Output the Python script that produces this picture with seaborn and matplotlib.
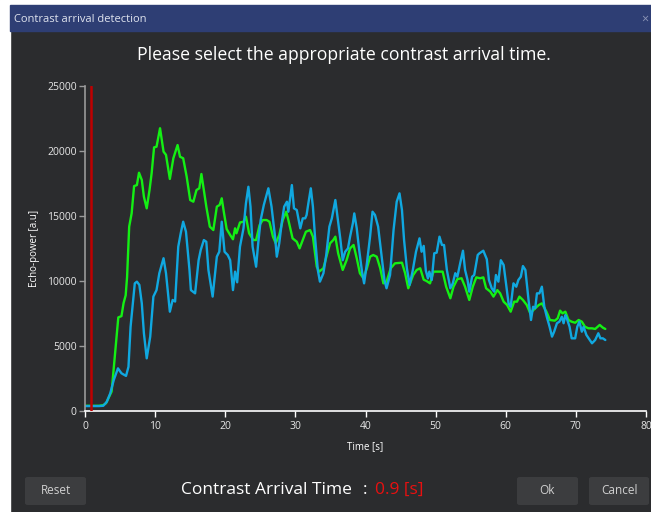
import numpy as np
import pandas as pd
import matplotlib
matplotlib.use("Agg")
import matplotlib.pyplot as plt
import seaborn as sns
from matplotlib.patches import Rectangle, FancyBboxPatch

# ---------------- data ----------------
green_time = [0, 2.0, 2.6, 3.0, 3.8, 4.3, 4.75, 5.2, 5.5, 5.8, 6.0, 6.3, 6.65, 7.0, 7.4, 7.7,
              8.1, 8.4, 8.8, 9.2, 9.5, 9.85, 10.2, 10.7, 11.2, 11.55, 12.1, 12.6, 13.2, 13.55,
              14.0, 14.5, 15.0, 15.45, 15.9, 16.3, 16.6, 17.3, 17.8, 18.3, 18.8, 19.2, 19.5,
              19.8, 20.2, 20.7, 21.1, 21.4, 21.6, 22.1, 22.6, 22.95, 23.4, 24.0, 24.4, 24.9,
              25.35, 25.9, 26.3, 26.8, 27.2, 27.7, 28.2, 28.7, 29.0, 29.6, 30.2, 30.6, 31.05,
              31.5, 32.1, 32.5, 33.05, 33.4, 34.0, 34.55, 34.95, 35.4, 35.7, 36.1, 36.75, 37.3,
              37.8, 38.3, 38.75, 39.2, 39.7, 40.2, 40.65, 41.1, 41.6, 42.1, 42.55, 43.0, 43.6,
              44.2, 45.2, 45.65, 46.1, 46.8, 47.3, 47.8, 48.3, 48.7, 49.2, 49.7, 50.4, 51.0,
              51.5, 52.1, 52.55, 53.1, 53.7, 54.2, 54.8, 55.3, 55.8, 56.35, 56.8, 57.2, 57.8,
              58.25, 58.8, 59.2, 59.7, 60.2, 60.7, 61.2, 61.6, 61.95, 62.45, 63.0, 63.5, 63.95,
              64.7, 65.15, 65.8, 66.3, 67.0, 67.4, 67.75, 68.1, 68.5, 68.95, 69.4, 69.9, 70.4,
              70.85, 71.3, 71.8, 72.3, 72.75, 73.4, 73.85, 74.2]
green_power = [400, 400, 450, 600, 1500, 4500, 7200, 7300, 8300, 8900, 10300, 14180, 15200, 17300,
               17380, 18330, 17770, 16480, 15590, 17000, 18280, 20280, 20330, 21750, 19950, 19700,
               17850, 19440, 20460, 19560, 19440, 18020, 16230, 16100, 17000, 17130, 18230, 15720,
               14180, 13920, 15720, 15850, 16360, 15300, 14000, 13540, 13210, 14050, 13670, 14500,
               14560, 14950, 13670, 13150, 13150, 14310, 14690, 14690, 14560, 13410, 12900, 13540,
               14690, 15330, 14690, 13280, 13020, 12510, 13150, 13790, 13920, 13410, 11100, 10720,
               10980, 12130, 12900, 13150, 13410, 12130, 10850, 11600, 12510, 12770, 11750, 10600,
               10210, 10980, 11870, 12000, 11870, 10980, 9820, 9950, 10980, 11360, 11410, 10600,
               9440, 10460, 10850, 10980, 10100, 10000, 9820, 10720, 10720, 10720, 9560, 8670, 9560,
               10150, 10210, 9560, 8540, 9560, 10280, 10210, 10280, 9440, 9180, 8800, 9300, 9050,
               8410, 8150, 7640, 8410, 8410, 8800, 8540, 8150, 7510, 7770, 8150, 8280, 7640, 7000,
               6950, 7130, 7720, 7510, 7640, 7000, 6870, 6790, 7000, 6870, 6480, 6360, 6360, 6310,
               6620, 6410, 6310]

blue_time = [0, 2.0, 2.6, 3.1, 3.6, 4.1, 4.7, 5.2, 5.85, 6.2, 6.5, 7.1, 7.4, 7.75, 8.1, 8.4, 8.8,
             9.3, 9.75, 10.2, 10.6, 11.2, 11.55, 12.1, 12.5, 12.85, 13.3, 13.65, 14.0, 14.4, 14.9,
             15.1, 15.7, 16.2, 16.5, 16.95, 17.3, 17.6, 18.2, 18.8, 19.15, 19.5, 19.9, 20.35,
             20.7, 21.1, 21.4, 21.7, 22.1, 22.6, 22.95, 23.3, 23.6, 23.9, 24.4, 24.7, 25.05,
             25.5, 26.15, 26.6, 27.1, 27.35, 27.7, 28.05, 28.4, 28.8, 29.0, 29.25, 29.5, 29.8,
             30.2, 30.7, 31.05, 31.4, 31.6, 31.85, 32.2, 32.5, 32.8, 33.2, 33.5, 34.0, 34.4,
             34.85, 35.2, 35.7, 36.0, 36.4, 36.75, 37.1, 37.5, 37.8, 38.2, 38.4, 38.75, 39.1,
             39.5, 39.8, 40.2, 40.65, 41.0, 41.35, 41.8, 42.2, 42.7, 43.0, 43.5, 44.0, 44.45,
             44.85, 45.2, 45.5, 45.9, 46.3, 46.75, 47.2, 47.7, 48.0, 48.3, 48.6, 48.9, 49.1,
             49.45, 49.8, 50.15, 50.55, 50.9, 51.2, 51.6, 52.1, 52.45, 52.8, 53.1, 53.5, 53.9,
             54.2, 54.55, 54.8, 55.2, 55.5, 56.0, 56.25, 56.8, 57.3, 57.6, 58.0, 58.35, 58.6,
             58.95, 59.3, 59.7, 60.15, 60.4, 60.7, 61.1, 61.5, 61.8, 62.15, 62.45, 62.8, 63.0,
             63.25, 63.6, 63.9, 64.2, 64.45, 64.8, 65.15, 65.5, 65.85, 66.25, 66.6, 66.9, 67.3,
             67.65, 68.0, 68.25, 68.5, 68.7, 69.1, 69.4, 69.9, 70.2, 70.5, 70.85, 71.1, 71.5,
             72.3, 72.75, 73.2, 73.5, 73.85, 74.2]
blue_power = [380, 380, 400, 700, 1360, 2380, 3280, 2900, 2700, 3400, 6480, 9820, 9950, 9700, 8280,
              5980, 4050, 5720, 8800, 9300, 10600, 11750, 10600, 7640, 8540, 8420, 12640, 13670,
              14560, 13790, 10850, 9300, 9050, 11600, 12380, 13150, 13020, 10850, 8800, 11870,
              12250, 14560, 12250, 12000, 11600, 9300, 10720, 9900, 12640, 14050, 15970, 17250,
              15720, 12640, 11100, 12900, 14690, 15850, 17130, 15720, 13410, 11870, 12900, 14440,
              15720, 16100, 15330, 16360, 17380, 15590, 15460, 14050, 14820, 14820, 15080, 15970,
              17130, 15720, 13410, 10850, 9950, 10600, 12000, 14180, 14820, 16230, 14950, 13280,
              11600, 12250, 12510, 13410, 14440, 15200, 14050, 12380, 10720, 9820, 11360, 13410,
              15330, 15080, 14180, 12380, 10080, 9440, 10460, 13920, 16100, 16740, 15460, 13150,
              10980, 9700, 10850, 12250, 13280, 12250, 12700, 10800, 10200, 10720, 10080, 12130,
              12180, 13410, 12770, 12770, 10850, 9440, 9820, 10600, 10330, 11360, 12330, 10850,
              10080, 9180, 10330, 10460, 12000, 12130, 12330, 11670, 10080, 9440, 9180, 10460,
              9950, 11600, 11230, 9300, 8280, 8020, 9820, 9560, 10080, 10330, 11150, 10850, 9820,
              8540, 7000, 8020, 7900, 9050, 9050, 9560, 8020, 7250, 6480, 5720, 6100, 6750, 6870,
              7250, 6750, 7380, 7130, 6480, 5590, 5590, 6480, 6870, 6100, 6480, 5850, 5210, 5460,
              5980, 5590, 5590, 5460]

arrival_time = 0.9
x_ticks = [0, 10, 20, 30, 40, 50, 60, 70, 80]
y_ticks = [0, 5000, 10000, 15000, 20000, 25000]
window_title = "Contrast arrival detection"
heading = "Please select the appropriate contrast arrival time."
x_label = "Time [s]"
y_label = "Echo-power [a.u]"

# ---------------- styling ----------------
BG = "#2b2c2e"
BAR = "#2e3e74"
GREEN = "#14f014"
BLUE = "#10a8e0"
RED_LINE = "#c00000"
BTN = "#3c3d3f"

sns.set_theme(style="dark")
plt.rcParams["font.family"] = ["Open Sans", "DejaVu Sans"]

W, H = 651, 512
fig = plt.figure(figsize=(W / 100, H / 100), dpi=100, facecolor=BG)

def fx(px):
    return px / W

def fy(py):
    return 1 - py / H

# white margins & title bar
fig.patches.append(Rectangle((0, 0), fx(10), 1, transform=fig.transFigure, color="white", zorder=0))
fig.patches.append(Rectangle((0, fy(5)), 1, 5 / H, transform=fig.transFigure, color="white", zorder=0))
fig.patches.append(Rectangle((fx(10), fy(31)), 1, 26 / H, transform=fig.transFigure, color=BAR, zorder=0))
fig.text(fx(14), fy(19), window_title, color="#dfe3ee", fontsize=8, va="center", ha="left")
fig.text(fx(641), fy(19), "×", color="#8a93b5", fontsize=9, va="center", ha="left")

fig.text(fx(344), fy(55), heading, color="white", fontsize=12.7, va="center", ha="center")

ax = fig.add_axes([fx(85), fy(411), fx(646) - fx(85), (411 - 86) / H])
ax.set_facecolor(BG)

df = pd.concat([
    pd.DataFrame({"t": green_time, "p": green_power, "s": "green"}),
    pd.DataFrame({"t": blue_time, "p": blue_power, "s": "blue"}),
])
sns.lineplot(data=df, x="t", y="p", hue="s", palette={"green": GREEN, "blue": BLUE},
             hue_order=["green", "blue"], linewidth=1.7, ax=ax, legend=False, sort=False,
             solid_joinstyle="round", solid_capstyle="round")
ax.plot([arrival_time, arrival_time], [0, 25000], color=RED_LINE, linewidth=1.8, zorder=5)

ax.set_xlim(0, 80)
ax.set_ylim(0, 25000)
ax.set_xticks(x_ticks)
ax.set_yticks(y_ticks)
ax.grid(False)
for s in ["top", "right"]:
    ax.spines[s].set_visible(False)
ax.spines["left"].set_color("#9a9a9a")
ax.spines["left"].set_linewidth(1.2)
ax.spines["bottom"].set_color("white")
ax.spines["bottom"].set_linewidth(1.2)
ax.tick_params(axis="y", colors="#9a9a9a", labelcolor="#e6e6e6", length=4, width=1,
               labelsize=7.5, direction="out", left=True, pad=2)
ax.tick_params(axis="x", colors="white", labelcolor="#e6e6e6", length=4, width=1,
               labelsize=7.5, direction="out", bottom=True, pad=3)
ax.set_xlabel(x_label, color="white", fontsize=7, labelpad=7)
ax.set_ylabel(y_label, color="white", fontsize=7, labelpad=5)

# bottom bar
def button(x0, x1, label):
    fig.patches.append(FancyBboxPatch((fx(x0), fy(505)), fx(x1) - fx(x0), 28 / H,
                                      boxstyle="round,pad=0,rounding_size=0.004",
                                      transform=fig.transFigure, facecolor=BTN, edgecolor="none"))
    fig.text(fx((x0 + x1) / 2), fy(491), label, color="#d0d0d0", fontsize=8.5,
             ha="center", va="center")

button(25, 86, "Reset")
button(517, 578, "Ok")
button(589, 649, "Cancel")

fig.text(fx(352), fy(490), "Contrast Arrival Time", color="white", fontsize=12.5,
         ha="right", va="center")
fig.text(fx(365), fy(490), ":", color="white", fontsize=12.5, ha="center", va="center")
fig.text(fx(375), fy(490), "0.9 [s]", color="#e81010", fontsize=12.5, ha="left", va="center")

fig.savefig("out.png", dpi=100, facecolor=BG)
